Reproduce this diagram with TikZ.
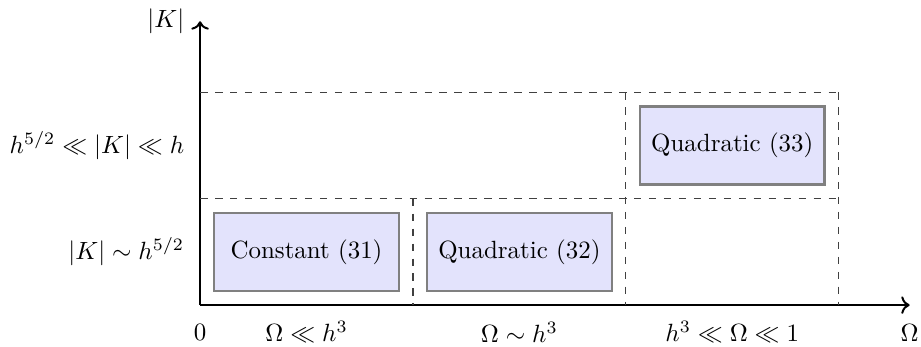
\documentclass[tikz,border=0pt]{standalone}
\definecolor{regimefill}{RGB}{227, 227, 252}
\definecolor{regimeedge}{RGB}{128, 128, 128}
\usepackage{tikz}
\usetikzlibrary{arrows.meta, positioning, calc}
\usepackage{amsmath, amssymb}

\begin{document}
\begin{tikzpicture}
  \useasboundingbox (-2.82, -0.59) rectangle (10.16, 4.30);
  \tikzset{
    regime/.style={draw=regimeedge, fill=regimefill, line width=0.9pt, minimum width=2.6cm, minimum height=1.1cm, inner sep=0pt},
    grid line/.style={dashed, black!75, line width=0.5pt}
  }

  % Axes
  \coordinate (O) at (0, 0);
  \coordinate (xend) at (10, 0);
  \coordinate (yend) at (0, 4);
  \draw[->, thick] (O) -- (xend);
  \draw[->, thick] (O) -- (yend);
  \node[below] (zero) at (0, -0.15) {$0$};
  \node[below] (omega) at (10, -0.15) {$\Omega$};
  \node[left] (kabs) at (-0.1, 4) {$|K|$};

  % Regime boundaries
  \draw[grid line] (0, 1.5) -- (9, 1.5);
  \draw[grid line] (0, 3) -- (9, 3);
  \draw[grid line] (3, 1.5) -- (3, 0);
  \draw[grid line] (6, 3) -- (6, 0);
  \draw[grid line] (9, 3) -- (9, 0);

  % Axis labels for each regime
  \node[left] (rowlow) at (-0.1, 0.75) {$|K| \sim h^{5/2}$};
  \node[left] (rowhigh) at (-0.1, 2.25) {$h^{5/2} \ll |K| \ll h$};
  \node (colone) at (1.5, -0.38) {$\Omega \ll h^3$};
  \node (coltwo) at (4.5, -0.38) {$\Omega \sim h^3$};
  \node (colthree) at (7.5, -0.38) {$h^3 \ll \Omega \ll 1$};

  % Expansions
  \node[regime] (constant) at (1.5, 0.75) {Constant (31)};
  \node[regime] (quadlow) at (4.5, 0.75) {Quadratic (32)};
  \node[regime] (quadhigh) at (7.5, 2.25) {Quadratic (33)};
\end{tikzpicture}
\end{document}
